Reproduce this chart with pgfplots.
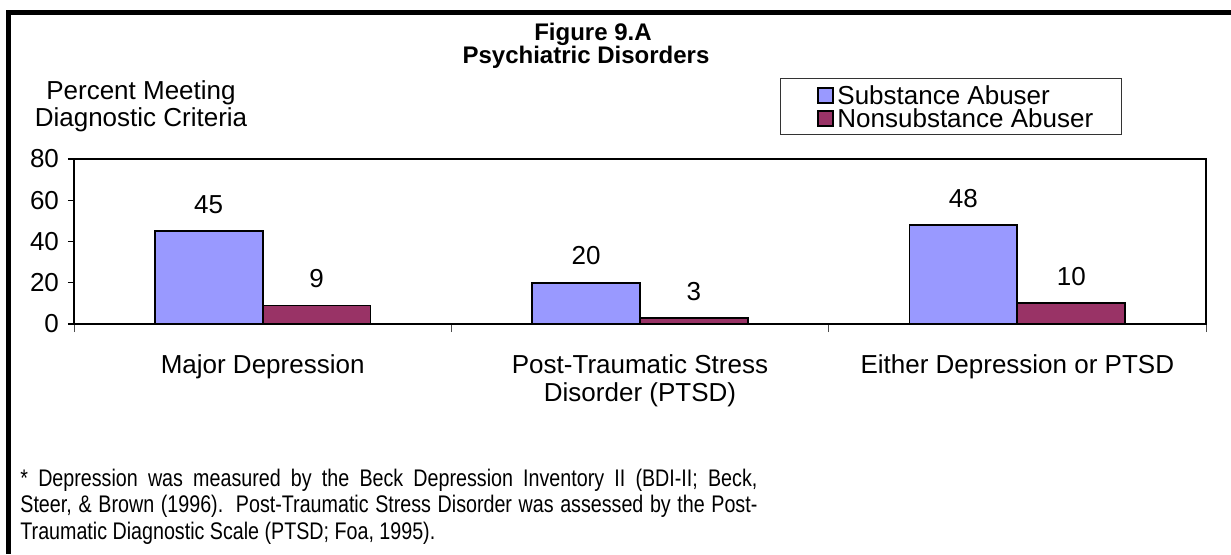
\documentclass[border=0pt]{standalone}
\usepackage{fontspec}
\setmainfont{Liberation Sans}
\newfontfamily\notefont[FakeStretch=0.82]{Liberation Sans}
\usepackage{pgfplots}
\pgfplotsset{compat=1.18}

\definecolor{subblue}{HTML}{9999FF}
\definecolor{nonred}{HTML}{993366}

\begin{document}
\begin{tikzpicture}
% page = 1231 x 554 px at 0.5pt per px
\useasboundingbox (0,0) rectangle (615.5pt,277pt);

\begin{axis}[
  at={(37pt,115pt)}, anchor=south west,
  scale only axis,
  width=566pt, height=82.5pt,
  xmin=-0.5, xmax=2.5,
  ymin=0, ymax=80,
  ytick={0,20,40,60,80},
  xtick={0,1,2},
  xticklabels={Major Depression, {Post-Traumatic Stress\\Disorder (PTSD)}, Either Depression or PTSD},
  minor xtick={-0.5,0.5,1.5,2.5},
  major x tick style={draw=none},
  minor x tick style={black!70, line width=0.5pt},
  minor tick length=4pt,
  major tick length=3pt,
  y tick style={black, line width=0.6pt},
  tick align=outside,
  tick pos=left,
  axis line style={line width=0.9pt},
  ticklabel style={font=\fontsize{13}{14}\selectfont},
  xticklabel style={align=center, yshift=-9pt},
  yticklabel style={xshift=-1pt},
  /pgf/number format/assume math mode=true,
  ybar, bar width=0.286,
  nodes near coords,
  every node near coord/.append style={font=\fontsize{13}{15}\selectfont, yshift=5pt},
]
\addplot[fill=subblue, draw=black, line width=0.9pt, bar shift=-0.143]
  coordinates {(0,45) (1,20) (2,48)};
\addplot[fill=nonred, draw=black, line width=0.9pt, bar shift=0.143]
  coordinates {(0,9) (1,3) (2,10)};
\end{axis}

\begin{scope}[shift={(0pt,277pt)}, x=0.5pt, y=-0.5pt]
  % frame
  \draw[line width=2.5pt] (6,12) -- (1231,12);
  \draw[line width=2.5pt] (8.5,10.75) -- (8.5,554);
  % title
  \node[font=\bfseries\fontsize{12}{14}\selectfont, anchor=base] at (593,40) {Figure 9.A};
  \node[font=\bfseries\fontsize{12}{14}\selectfont, anchor=base] at (586,63) {Psychiatric Disorders};
  % y axis title
  \node[font=\fontsize{13}{15}\selectfont, anchor=base] at (141,99) {Percent Meeting};
  \node[font=\fontsize{13}{15}\selectfont, anchor=base] at (141,126) {Diagnostic Criteria};
  % legend
  \draw[line width=0.5pt, black!80] (780,78) rectangle (1121,134);
  \draw[fill=subblue, line width=0.8pt] (818,88) rectangle (833,103);
  \draw[fill=nonred, line width=0.8pt] (818,111) rectangle (833,126);
  \node[font=\fontsize{13}{15}\selectfont, anchor=base west, inner sep=0pt] at (837,104) {Substance Abuser};
  \node[font=\fontsize{13}{15}\selectfont, anchor=base west, inner sep=0pt] at (837,127) {Nonsubstance Abuser};
  % footnote
  \begin{scope}[every node/.style={anchor=base west, inner sep=0pt, font=\notefont\fontsize{12}{14}\selectfont}]
    \node at (20,486) {\makebox[368.5pt][s]{* Depression was measured by the Beck Depression Inventory II (BDI-II; Beck,}};
    \node at (20,512) {\makebox[368.5pt][s]{Steer, \& Brown (1996).\hspace{1pt} Post-Traumatic Stress Disorder was assessed by the Post-}};
    \node at (20,539) {Traumatic Diagnostic Scale (PTSD; Foa, 1995).};
  \end{scope}
\end{scope}
\end{tikzpicture}
\end{document}
